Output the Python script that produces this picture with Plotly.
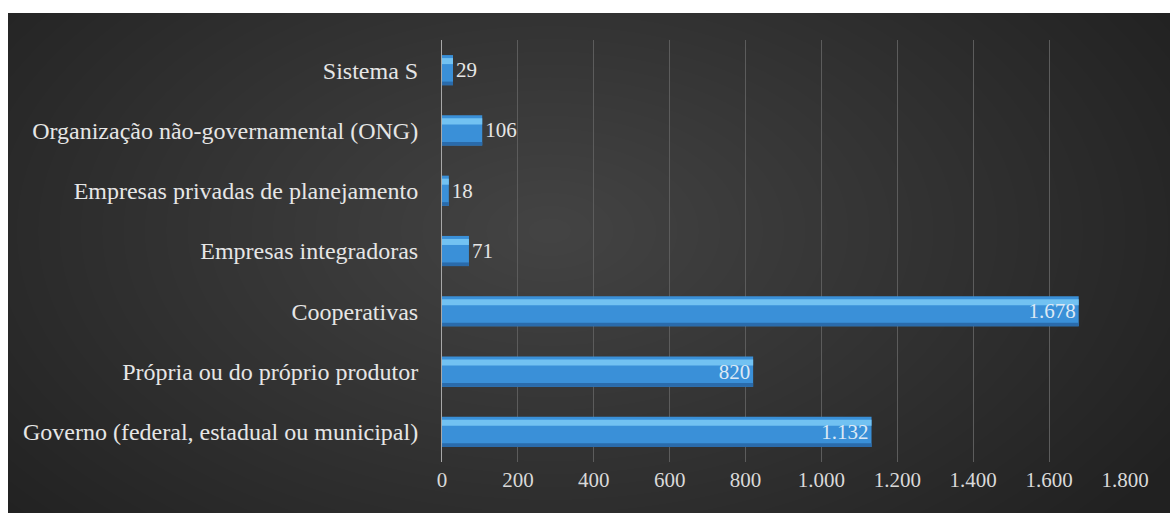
import plotly.graph_objects as go

categories = [
    "Governo (federal, estadual ou municipal)",
    "Própria ou do próprio produtor",
    "Cooperativas",
    "Empresas integradoras",
    "Empresas privadas de planejamento",
    "Organização não-governamental (ONG)",
    "Sistema S",
]
values = [1132, 820, 1678, 71, 18, 106, 29]
label_positions = ["inside", "inside", "inside", "outside", "outside", "outside", "outside"]
tick_values = [0, 200, 400, 600, 800, 1000, 1200, 1400, 1600, 1800]

W, H = 1170, 513
FONT = "Liberation Serif"

fig = go.Figure()

# base bar
fig.add_trace(go.Bar(
    y=categories, x=values, orientation="h",
    width=0.5, offset=-0.25,
    marker=dict(color="#3a90d8", line=dict(width=0)),
    hoverinfo="skip",
))
# top highlight
fig.add_trace(go.Bar(
    y=categories, x=values, orientation="h",
    width=0.1, offset=0.1,
    marker=dict(color="#72c2f2", line=dict(width=0)),
    hoverinfo="skip",
))
# bottom shadow
fig.add_trace(go.Bar(
    y=categories, x=values, orientation="h",
    width=0.06, offset=-0.25,
    marker=dict(color="#2a6bab", line=dict(width=0)),
    hoverinfo="skip",
))
# value labels on top
fig.add_trace(go.Bar(
    y=categories, x=values, orientation="h",
    width=0.5, offset=-0.25,
    marker=dict(color="rgba(0,0,0,0)", line=dict(width=0)),
    text=values, texttemplate="%{x:,d}",
    textposition=label_positions, insidetextanchor="end",
    outsidetextfont=dict(family=FONT, size=21, color="#e6e6e6"),
    insidetextfont=dict(family=FONT, size=21, color="#dce9f5"),
    cliponaxis=False, constraintext="none",
    hoverinfo="skip",
))

shapes = []
# dark chart area
x0p, y0p = 8 / W, 1 - 13 / H
shapes.append(dict(type="rect", xref="paper", yref="paper", x0=x0p, x1=1, y0=0, y1=y0p,
                   fillcolor="#212121", line=dict(width=0), layer="below"))
# radial gradient approximation
cx, cy = 0.47, 0.55
n = 34
for i in range(n):
    f = 1 - i / n
    rx = 0.62 * f
    ry = 0.85 * f
    shapes.append(dict(type="circle", xref="paper", yref="paper",
                       x0=cx - rx, x1=cx + rx,
                       y0=cy - ry, y1=cy + ry,
                       fillcolor="white", opacity=0.0085,
                       line=dict(width=0), layer="below"))
# white border (top and left)
shapes.append(dict(type="rect", xref="paper", yref="paper", x0=-0.1, x1=1.1, y0=y0p, y1=1.5,
                   fillcolor="white", line=dict(width=0), layer="below"))
shapes.append(dict(type="rect", xref="paper", yref="paper", x0=-0.5, x1=x0p, y0=-0.5, y1=1.5,
                   fillcolor="white", line=dict(width=0), layer="below"))

fig.update_layout(
    width=W, height=H,
    template="none",
    barmode="overlay",
    showlegend=False,
    separators=",.",
    paper_bgcolor="white",
    plot_bgcolor="rgba(0,0,0,0)",
    margin=dict(l=0, r=0, t=0, b=0),
    shapes=shapes,
    font=dict(family=FONT, color="#e6e6e6"),
    xaxis=dict(
        domain=[442 / W, 1125 / W],
        range=[0, 1800],
        tickvals=tick_values,
        tickformat=",d",
        showgrid=True, gridcolor="#5c5c5c", gridwidth=1,
        zeroline=False, showline=False, ticks="",
        tickfont=dict(family=FONT, size=21, color="#d9d9d9"),
        ticklabelstandoff=3,
        automargin=False,
    ),
    yaxis=dict(
        domain=[1 - 462 / H, 1 - 40 / H],
        categoryorder="array", categoryarray=categories,
        showgrid=False, zeroline=False,
        showline=True, linecolor="#a8a8a8", linewidth=1,
        ticks="",
        tickfont=dict(family=FONT, size=24, color="#e6e6e6"),
        ticklabelstandoff=18,
        automargin=False,
    ),
)

fig.write_html("out.html", config={"displayModeBar": False},
               post_script="document.body.style.margin='0';")
